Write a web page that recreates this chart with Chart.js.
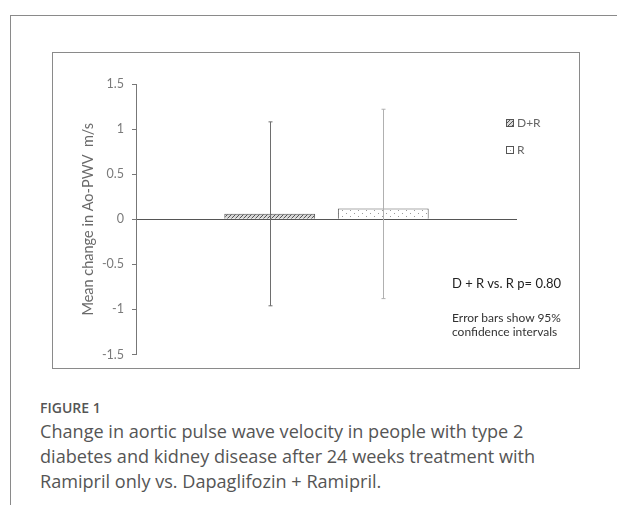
<!DOCTYPE html>
<html>
<head>
<meta charset="utf-8">
<script src="https://cdn.jsdelivr.net/npm/chart.js@4"></script>
<style>
  body { margin: 0; background: #fff; width: 617px; height: 505px; position: relative; overflow: hidden; font-family: Lato, "Open Sans", sans-serif; }
  #frame { position: absolute; left: 10px; top: 15px; width: 620px; height: 500px; border-left: 1.5px solid #8a8a8a; border-top: 1.5px solid #8a8a8a; }
  #box { position: absolute; left: 52px; top: 52px; width: 528px; height: 317px; border: 1.5px solid #8a8a8a; box-sizing: border-box; }
  #box canvas { position: absolute; left: 0; top: 0; }
  .note { position: absolute; color: #222; font-family: Lato, sans-serif; white-space: nowrap; }
  #pval { left: 452px; top: 275px; font-size: 13px; }
  #ci { left: 452px; top: 311px; font-size: 12px; line-height: 14px; color: #333; }
  #figlabel { position: absolute; left: 40px; top: 398px; font-size: 14px; font-weight: 600; color: #555; font-family: "Open Sans", sans-serif; }
  #caption { position: absolute; left: 40px; top: 419px; font-size: 18.1px; line-height: 25px; color: #555; font-family: "Open Sans", sans-serif; }
</style>
</head>
<body>
<div id="frame"></div>
<div id="box"><canvas id="chart" width="528" height="317"></canvas></div>
<div class="note" id="pval">D + R vs. R p= 0.80</div>
<div class="note" id="ci">Error bars show 95%<br>confidence intervals</div>
<div id="figlabel">FIGURE 1</div>
<div id="caption">Change in aortic pulse wave velocity in people with type 2<br>diabetes and kidney disease after 24 weeks treatment with<br>Ramipril only vs. Dapaglifozin + Ramipril.</div>
<script>
// values (m/s)
const categories = ["Ao-PWV"];
const seriesNames = ["D+R", "R"];
const meanChange = [0.06, 0.12];
const ciLower = [-0.96, -0.88];
const ciUpper = [1.08, 1.22];
const yMin = -1.5, yMax = 1.5, yStep = 0.5;

const errColors = ["#6e6e6e", "#b0b0b0"];

function hatchPattern() {
  const c = document.createElement("canvas");
  c.width = 4; c.height = 4;
  const g = c.getContext("2d");
  g.fillStyle = "#d8d8d8";
  g.fillRect(0, 0, 4, 4);
  g.strokeStyle = "#555";
  g.lineWidth = 1;
  g.beginPath();
  g.moveTo(-1, 5); g.lineTo(5, -1);
  g.moveTo(-1, 1); g.lineTo(1, -1);
  g.moveTo(3, 5); g.lineTo(5, 3);
  g.stroke();
  return g.createPattern(c, "repeat");
}

function dotPattern() {
  const c = document.createElement("canvas");
  c.width = 8; c.height = 6;
  const g = c.getContext("2d");
  g.fillStyle = "#fff";
  g.fillRect(0, 0, 8, 6);
  g.fillStyle = "#9a9a9a";
  g.fillRect(1, 1, 1, 1);
  g.fillRect(5, 4, 1, 1);
  return g.createPattern(c, "repeat");
}

const fills = [hatchPattern(), dotPattern()];

// 95% CI whiskers
const errorBars = {
  id: "errorBars",
  afterDatasetsDraw(chart) {
    const y = chart.scales.y;
    const ctx = chart.ctx;
    chart.data.datasets.forEach((ds, i) => {
      const bar = chart.getDatasetMeta(i).data[0];
      const x = Math.round(bar.x) + 0.5;
      ctx.save();
      ctx.strokeStyle = errColors[i];
      ctx.lineWidth = 1;
      ctx.beginPath();
      ctx.moveTo(x, y.getPixelForValue(ciUpper[i]));
      ctx.lineTo(x, y.getPixelForValue(ciLower[i]));
      ctx.moveTo(x - 2, y.getPixelForValue(ciUpper[i]));
      ctx.lineTo(x + 2, y.getPixelForValue(ciUpper[i]));
      ctx.moveTo(x - 2, y.getPixelForValue(ciLower[i]));
      ctx.lineTo(x + 2, y.getPixelForValue(ciLower[i]));
      ctx.stroke();
      ctx.restore();
    });
  }
};

// small legend to the right, Excel style
const sideLegend = {
  id: "sideLegend",
  afterDraw(chart) {
    const ctx = chart.ctx;
    const x0 = chart.chartArea.right - 11;
    chart.data.datasets.forEach((ds, i) => {
      const yc = 70 + i * 27;
      ctx.save();
      ctx.fillStyle = ds.backgroundColor;
      ctx.fillRect(x0, yc - 4, 8, 8);
      ctx.strokeStyle = "#555";
      ctx.lineWidth = 1;
      ctx.strokeRect(x0 + 0.5, yc - 3.5, 7, 7);
      ctx.fillStyle = "#666";
      ctx.font = "12px Lato, sans-serif";
      ctx.textBaseline = "middle";
      ctx.fillText(ds.label, x0 + 11, yc);
      ctx.restore();
    });
  }
};

new Chart(document.getElementById("chart"), {
  type: "bar",
  data: {
    labels: categories,
    datasets: seriesNames.map((name, i) => ({
      label: name,
      data: [meanChange[i]],
      backgroundColor: fills[i],
      borderColor: "#555",
      borderWidth: 1,
      borderSkipped: "bottom",
      barPercentage: 0.8,
      categoryPercentage: 0.596
    }))
  },
  options: {
    responsive: false,
    animation: false,
    layout: { padding: { top: 31, right: 64, bottom: 13, left: 0 } },
    plugins: { legend: { display: false }, tooltip: { enabled: false } },
    scales: {
      x: { display: false },
      y: {
        min: yMin,
        max: yMax,
        afterFit: (s) => { s.width = 83; },
        ticks: {
          stepSize: yStep,
          color: "#7a7a7a",
          font: { family: "Lato, sans-serif", size: 12.5 },
          padding: 8,
          callback: (v) => String(v)
        },
        grid: {
          color: (c) => (c.tick && c.tick.value === 0 ? "#555" : "rgba(0,0,0,0)"),
          tickColor: "#777",
          tickLength: 4,
          lineWidth: 1
        },
        border: { color: "#777", width: 1 },
        title: {
          display: true,
          text: "Mean change in Ao-PWV  m/s",
          color: "#6a6a6a",
          font: { family: "Lato, sans-serif", size: 14.5 },
          padding: { top: 27, bottom: 0 }
        }
      }
    }
  },
  plugins: [errorBars, sideLegend]
});
</script>
</body>
</html>
